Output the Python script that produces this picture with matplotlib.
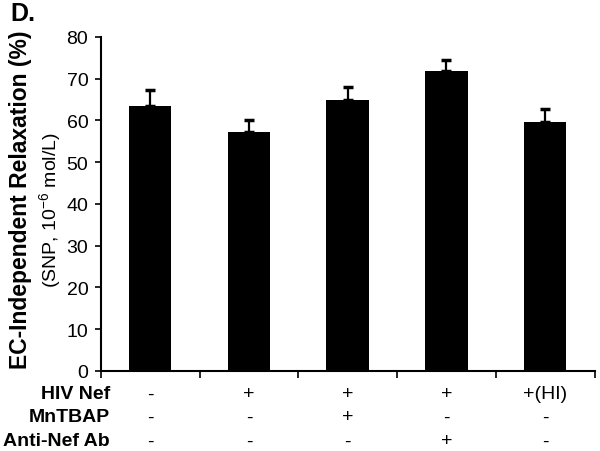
import numpy as np
import matplotlib
matplotlib.use("Agg")
import matplotlib.pyplot as plt

plt.rcParams['font.family'] = ['Liberation Sans', 'DejaVu Sans']
plt.rcParams['mathtext.default'] = 'regular'

# Data
values = [63.5, 57.2, 65.0, 71.9, 59.7]
errors = [3.8, 3.0, 2.9, 2.7, 3.1]
row_names = ['HIV Nef', 'MnTBAP', 'Anti-Nef Ab']
hiv_nef = ['-', '+', '+', '+', '+(HI)']
mntbap = ['-', '-', '+', '-', '-']
anti_nef = ['-', '-', '-', '+', '-']
yticks = [0, 10, 20, 30, 40, 50, 60, 70, 80]

fig = plt.figure(figsize=(6, 4.52), dpi=100)
ax = fig.add_axes([0.168, 0.177, 0.823, 0.739])

x = np.arange(len(values))
ax.bar(x, values, width=0.43, color='black', zorder=2)
ax.errorbar(x, values, yerr=[np.zeros(len(errors)), errors], fmt='none',
            ecolor='black', elinewidth=1.6, capsize=3.5, capthick=2.5, zorder=3)

ax.set_xlim(-0.5, len(values) - 0.5)
ax.set_ylim(0, 80)
ax.set_yticks(yticks)
ax.set_xticks(np.arange(len(values) + 1) - 0.5)
ax.set_xticklabels([])
ax.tick_params(axis='y', labelsize=14, direction='out', length=4, width=1.2, pad=5)
ax.tick_params(axis='x', direction='out', length=5, width=1.2)
for side in ['top', 'right']:
    ax.spines[side].set_visible(False)
for side in ['left', 'bottom']:
    ax.spines[side].set_linewidth(1.5)

# y labels: bold main line plus regular sub-line
fig.text(0.034, 0.558, 'EC-Independent Relaxation (%)', rotation=90,
         ha='center', va='center', fontsize=16.5, fontweight='bold')
fig.text(0.083, 0.535, '(SNP, 10$^{-6}$ mol/L)', rotation=90,
         ha='center', va='center', fontsize=14)

# condition table below the axis
rows = [hiv_nef, mntbap, anti_nef]
row_y = [395, 418, 442]
for name, vals, py in zip(row_names, rows, row_y):
    yf = 1 - py / 452
    fig.text(110 / 600, yf, name, ha='right', va='center',
             fontsize=14, fontweight='bold')
    for i, v in enumerate(vals):
        xf = ax.transData.transform((i, 0))[0] / fig.bbox.width
        fig.text(xf, yf, v, ha='center', va='center', fontsize=14)

fig.text(10 / 600, 0.995, 'D.', ha='left', va='top', fontsize=18, fontweight='bold')

fig.savefig('out.png', dpi=100)
